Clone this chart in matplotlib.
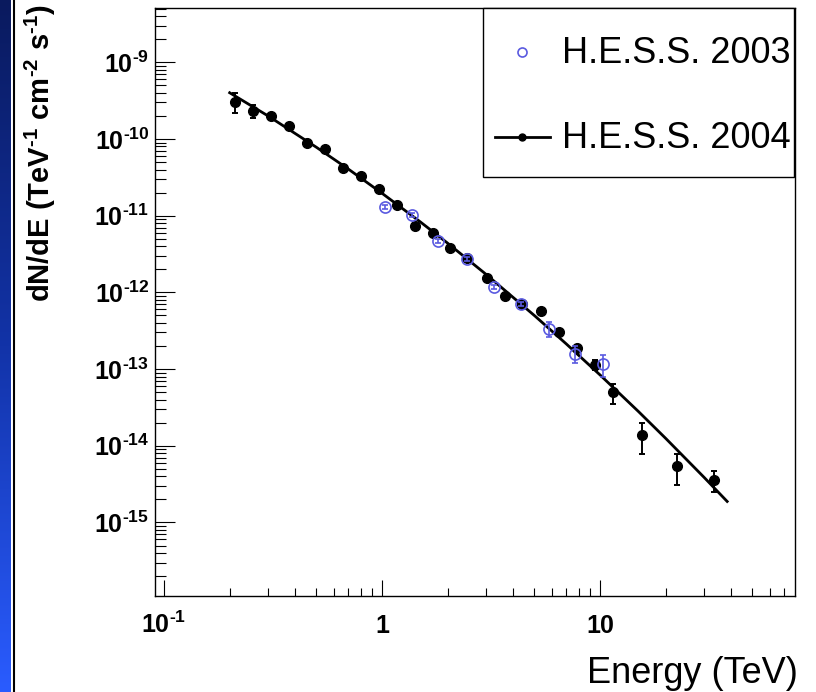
import numpy as np
import matplotlib
matplotlib.use('Agg')
import matplotlib.pyplot as plt
from matplotlib.lines import Line2D
from matplotlib.patches import Rectangle

plt.rcParams['font.family'] = ['Liberation Sans', 'DejaVu Sans']
plt.rcParams['mathtext.fontset'] = 'custom'
plt.rcParams['mathtext.rm'] = 'Liberation Sans:bold'
plt.rcParams['mathtext.it'] = 'Liberation Sans:bold'
plt.rcParams['mathtext.bf'] = 'Liberation Sans:bold'
plt.rcParams['mathtext.default'] = 'rm'

# H.E.S.S. 2004 (filled points, with error bars)
e04 = [0.212, 0.257, 0.310, 0.376, 0.453, 0.548, 0.663, 0.799, 0.969, 1.17,
       1.42, 1.72, 2.05, 2.46, 3.02, 3.65, 4.39, 5.36, 6.49, 7.84,
       9.51, 11.5, 15.6, 22.6, 33.2]
f04 = [3.01e-10, 2.34e-10, 2.00e-10, 1.49e-10, 8.95e-11, 7.34e-11, 4.15e-11, 3.27e-11, 2.20e-11, 1.39e-11,
       7.34e-12, 5.86e-12, 3.74e-12, 2.81e-12, 1.54e-12, 9.06e-13, 7.06e-13, 5.72e-13, 3.05e-13, 1.86e-13,
       1.13e-13, 4.96e-14, 1.38e-14, 5.41e-15, 3.55e-15]
f04_lo = [2.16e-10, 1.86e-10, 1.85e-10, 1.39e-10, 8.40e-11, 6.90e-11, 3.90e-11, 3.07e-11, 2.07e-11, 1.31e-11,
          6.90e-12, 5.50e-12, 3.50e-12, 2.64e-12, 1.44e-12, 8.40e-13, 6.50e-13, 5.30e-13, 2.80e-13, 1.68e-13,
          0.98e-13, 3.50e-14, 7.90e-15, 3.05e-15, 2.50e-15]
f04_hi = [3.94e-10, 2.80e-10, 2.15e-10, 1.60e-10, 9.50e-11, 7.80e-11, 4.40e-11, 3.47e-11, 2.33e-11, 1.47e-11,
          7.80e-12, 6.20e-12, 4.00e-12, 2.98e-12, 1.64e-12, 9.70e-13, 7.60e-13, 6.15e-13, 3.30e-13, 2.05e-13,
          1.30e-13, 6.40e-14, 1.98e-14, 7.75e-15, 4.73e-15]

# H.E.S.S. 2003 (open points)
e03 = [1.035, 1.366, 1.807, 2.446, 3.26, 4.35, 5.82, 7.70, 10.27]
f03 = [1.29e-11, 1.03e-11, 4.68e-12, 2.75e-12, 1.17e-12, 7.06e-13, 3.34e-13, 1.57e-13, 1.16e-13]
f03_lo = [1.22e-11, 0.97e-11, 4.40e-12, 2.60e-12, 1.10e-12, 6.60e-13, 2.64e-13, 1.20e-13, 7.80e-14]
f03_hi = [1.36e-11, 1.09e-11, 4.95e-12, 2.90e-12, 1.24e-12, 7.50e-13, 4.07e-13, 2.02e-13, 1.53e-13]

# fitted spectrum
fit_e = [0.2, 0.3, 0.5, 0.7, 1, 1.5, 2, 3, 5, 7, 10, 15, 20, 30, 38.3]
fit_f = [4.01e-10, 2.00e-10, 7.80e-11, 4.06e-11, 1.96e-11, 8.28e-12, 4.38e-12, 1.72e-12, 4.99e-13, 2.13e-13,
         8.39e-14, 2.80e-14, 1.25e-14, 3.88e-15, 1.88e-15]

xticks = [0.1, 1, 10]
xticklabels = [r'$10^{\text{-}1}$', '1', '10']
yticks = [1e-15, 1e-14, 1e-13, 1e-12, 1e-11, 1e-10, 1e-9]
yticklabels = [r'$10^{\text{-}15}$', r'$10^{\text{-}14}$', r'$10^{\text{-}13}$', r'$10^{\text{-}12}$',
               r'$10^{\text{-}11}$', r'$10^{\text{-}10}$', r'$10^{\text{-}9}$']

W, H = 816, 692
fig = plt.figure(figsize=(W / 100, H / 100), dpi=100)

# blue slide border on the left
bg = fig.add_axes([0, 0, 11 / W, 1])
grad = np.linspace(0, 1, 256).reshape(-1, 1)
cmap = matplotlib.colors.LinearSegmentedColormap.from_list('edge', ['#0a1a5e', '#1233a8', '#2a5cff'])
bg.imshow(grad, aspect='auto', cmap=cmap, origin='upper')
bg.axis('off')
fig.add_artist(Line2D([13.5 / W, 13.5 / W], [0, 1], color='black', lw=1.5))

ax = fig.add_axes([154.7 / W, 1 - 595.7 / H, (795 - 154.7) / W, (595.7 - 8.3) / H])
ax.set_xscale('log')
ax.set_yscale('log')
ax.set_xlim(0.0906, 78.4)
ax.set_ylim(1.11e-16, 5.06e-9)

ax.plot(fit_e, fit_f, color='black', lw=2, zorder=2)

e04a, f04a = np.array(e04), np.array(f04)
ax.errorbar(e04a, f04a, yerr=[f04a - np.array(f04_lo), np.array(f04_hi) - f04a],
            fmt='o', color='black', ms=7, elinewidth=1.4, capsize=2.5, capthick=1.4, zorder=3)
e03a, f03a = np.array(e03), np.array(f03)
ax.errorbar(e03a, f03a, yerr=[f03a - np.array(f03_lo), np.array(f03_hi) - f03a],
            fmt='o', mfc='none', mec='#5a5ae0', ecolor='#5a5ae0', ms=8, mew=1.2,
            elinewidth=1.2, capsize=2.5, capthick=1.2, zorder=4)

for s in ax.spines.values():
    s.set_linewidth(1.0)
ax.tick_params(which='both', direction='in', top=False, right=False, width=0.8)
ax.tick_params(axis='x', which='major', length=11.3, pad=27)
ax.tick_params(axis='x', which='minor', length=6)
ax.tick_params(axis='y', which='major', length=14.4, pad=4)
ax.tick_params(axis='y', which='minor', length=7.9)
ax.set_xticks(xticks, xticklabels, va='baseline', fontsize=18, fontweight='bold')
ax.set_yticks(yticks, yticklabels, fontsize=18)
ax.yaxis.set_minor_locator(matplotlib.ticker.LogLocator(base=10, subs=np.arange(2, 10), numticks=30))
ax.yaxis.set_minor_formatter(matplotlib.ticker.NullFormatter())
ax.xaxis.set_minor_formatter(matplotlib.ticker.NullFormatter())

fig.text(40 / W, 1 - 4 / H, r'dN/dE (TeV$^{\text{-}1}$ cm$^{\text{-}2}$ s$^{\text{-}1}$)', rotation=90,
         ha='center', va='top', fontsize=21, fontweight='bold')
fig.text(798 / W, 1 - 683 / H, 'Energy (TeV)', ha='right', va='baseline', fontsize=26)

# legend box
fig.add_artist(Rectangle((483.3 / W, 1 - 176.7 / H), (794 - 483.3) / W, (176.7 - 8.3) / H,
                         transform=fig.transFigure, fill=True, fc='white', ec='black', lw=1.0, zorder=5))
fig.add_artist(Line2D([521.7 / W], [1 - 51.7 / H], marker='o', ms=6.5, mfc='none', mec='#5a5ae0',
                      mew=1.2, ls='none', zorder=6))
fig.add_artist(Line2D([495 / W, 550 / W], [1 - 136.7 / H] * 2, color='black', lw=2, zorder=6))
fig.add_artist(Line2D([521.7 / W], [1 - 136.7 / H], marker='o', ms=5, color='black', ls='none', zorder=6))
fig.text(562 / W, 1 - 63.3 / H, 'H.E.S.S. 2003', fontsize=26, va='baseline', zorder=7)
fig.text(562 / W, 1 - 148.3 / H, 'H.E.S.S. 2004', fontsize=26, va='baseline', zorder=7)

fig.savefig('out.png', dpi=100)
